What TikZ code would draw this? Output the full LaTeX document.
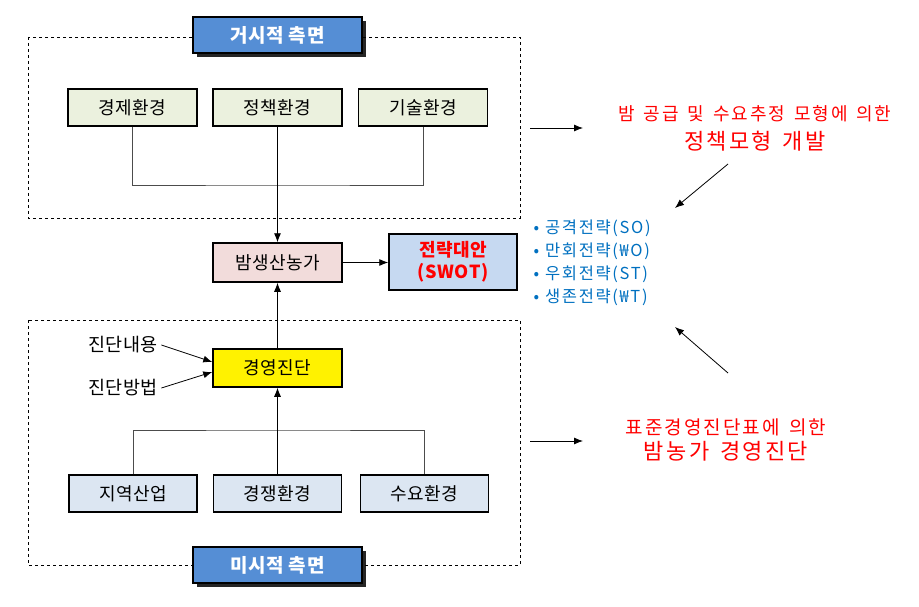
\documentclass[tikz,border=0pt]{standalone}
\usepackage{fontspec}
\setmainfont{Noto Sans CJK KR}[LetterSpace=3]
\newfontfamily\notefont{Noto Sans CJK KR}[LetterSpace=10.5, WordSpace=1.5]
\newfontfamily\listfont{Noto Sans CJK KR}[LetterSpace=10]
\usetikzlibrary{positioning,shadows,arrows.meta}

\definecolor{envgreen}{HTML}{EBF1DE}
\definecolor{farmpink}{HTML}{F2DCDB}
\definecolor{swotblue}{HTML}{C6D9F1}
\definecolor{microblue}{HTML}{DCE6F2}
\definecolor{headblue}{HTML}{558ED5}
\definecolor{listblue}{HTML}{0070C0}
\definecolor{notered}{HTML}{FF0000}

\tikzset{
	envbox/.style={draw, line width=1.5pt, minimum width=129pt, minimum height=37pt,
		inner sep=0pt, font=\fontsize{18}{18}\selectfont},
	headbox/.style={draw, line width=1.6pt, fill=headblue, minimum width=169pt,
		minimum height=36pt, inner sep=0pt, text=white,
		font=\bfseries\fontsize{19}{19}\selectfont,
		drop shadow={shadow xshift=4pt, shadow yshift=-4pt, fill=black, opacity=0.85}},
	areabox/.style={dashed, line width=0.6pt},
	flow/.style={-{Latex[length=9pt,width=7pt]}, line width=0.8pt},
	link/.style={line width=0.8pt, draw=black!70},
	note/.style={text=notered, align=center},
	sidetext/.style={font=\fontsize{18.5}{18.5}\selectfont},
}

\begin{document}
\begin{tikzpicture}[x=1pt,y=-1pt]

	% ---- canvas

	\useasboundingbox (0,0) rectangle (919,607);

	% ---- dashed areas

	\draw[areabox] (28,37) rectangle (520,218);
	\draw[areabox] (28,320) rectangle (520,565);

	% ---- macro environment

	\node[headbox] (macro) at (277.5,35) {거시적 측면};

	\node[envbox, fill=envgreen] (eco)  at (132.5,107.5) {경제환경};
	\node[envbox, fill=envgreen] (pol)  at (277.5,107.5) {정책환경};
	\node[envbox, fill=envgreen] (tech) at (423,107.5)   {기술환경};

	% ---- farm and strategy

	\node[envbox, fill=farmpink, minimum height=39pt] (farm) at (277.5,262.5) {밤생산농가};
	\node[envbox, fill=swotblue, minimum width=128pt, minimum height=56pt, text=notered,
		align=center, font=\bfseries\fontsize{18}{22}\selectfont] (swot) at (453,262)
		{전략대안\\(SWOT)};

	% ---- micro environment

	\node[envbox, fill=yellow, minimum height=38pt] (diag) at (277.5,368) {경영진단};

	\node[sidetext] (content) at (123,345) {진단내용};
	\node[sidetext] (method)  at (123,388) {진단방법};

	\node[envbox, fill=microblue, minimum width=128pt] (region) at (133,493.5)   {지역산업};
	\node[envbox, fill=microblue, minimum width=128pt] (comp)   at (277.5,493.5) {경쟁환경};
	\node[envbox, fill=microblue, minimum width=128pt] (demand) at (424.5,493.5) {수요환경};

	\node[headbox] (micro) at (277.5,565) {미시적 측면};

	% ---- connectors

	\coordinate (topjoin) at (277.5,185);
	\coordinate (botjoin) at (277.5,430);

	\draw[link] (eco.south) |- (topjoin) -| (tech.south);
	\draw[flow] (pol.south) -- (farm.north);

	\draw[link] (region.north) |- (botjoin) -| (demand.north);
	\draw[flow] (comp.north) -- (diag.south);
	\draw[flow] (diag.north) -- (farm.south);

	\draw[flow] (farm.east) -- (farm.east -| swot.west);

	\draw[flow] (content.east) -- ([yshift=6pt]diag.west);
	\draw[flow] (method.east) -- ([yshift=-4pt]diag.west);

	% ---- right side notes

	\node[note] (model) at (755,128)
		{\notefont\fontsize{18}{18}\selectfont 밤 공급 및 수요추정 모형에 의한\\[8pt]
		 \notefont\fontsize{22}{22}\selectfont 정책모형 개발};

	\node[text=listblue, align=left, anchor=west,
		font=\listfont\fontsize{16.5}{22.8}\selectfont] (strategies) at (530,263)
		{\textbullet\hspace{6pt}공격전략(SO)\\
		 \textbullet\hspace{6pt}만회전략(₩O)\\
		 \textbullet\hspace{6pt}우회전략(ST)\\
		 \textbullet\hspace{6pt}생존전략(₩T)};

	\node[note] (manual) at (726,440)
		{\notefont\fontsize{19}{19}\selectfont 표준경영진단표에 의한\\[5pt]
		 \notefont\fontsize{22}{22}\selectfont 밤농가 경영진단};

	% ---- free arrows

	\coordinate (upperout) at (530,128);
	\coordinate (upperin)  at (583,128);
	\coordinate (lowerout) at (530,441);
	\coordinate (lowerin)  at (583,441);
	\coordinate (modelend) at (728,164);
	\coordinate (listtop)  at (675,208);
	\coordinate (manualend) at (728,373);
	\coordinate (listbot)  at (675,327);

	\draw[flow] (upperout) -- (upperin);
	\draw[flow] (lowerout) -- (lowerin);
	\draw[flow] (modelend) -- (listtop);
	\draw[flow] (manualend) -- (listbot);

\end{tikzpicture}
\end{document}
